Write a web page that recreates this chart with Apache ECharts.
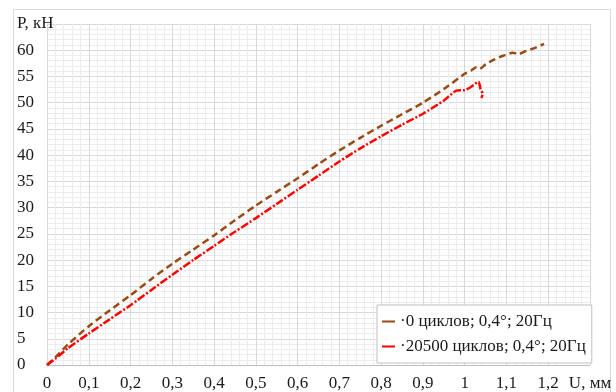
<!DOCTYPE html>
<html><head><meta charset="utf-8">
<script src="https://cdn.jsdelivr.net/npm/echarts@6/dist/echarts.min.js"></script>
<style>html,body{margin:0;padding:0;background:#fff}#c{width:616px;height:392px}</style>
</head><body><div id="c"></div>
<script>
const seriesNames = ['0 циклов; 0,4°; 20Гц', '20500 циклов; 0,4°; 20Гц'];
const xAxisTitle = 'U, мм';
const yAxisTitle = 'P, кН';
const series0 = [[0,0],[0.02,1.5],[0.05,3.9],[0.1,7.4],[0.15,10.4],[0.2,13.3],[0.25,16.4],[0.3,19.3],[0.35,22.0],[0.4,24.7],[0.45,27.6],[0.5,30.4],[0.55,33.0],[0.6,35.6],[0.65,38.3],[0.7,40.9],[0.75,43.3],[0.8,45.6],[0.85,47.8],[0.9,50.0],[0.95,52.6],[1.0,55.5],[1.015,56.1],[1.027,56.7],[1.035,56.4],[1.05,57.3],[1.07,58.2],[1.09,58.9],[1.115,59.5],[1.13,59.3],[1.145,59.8],[1.17,60.5],[1.19,61.2]];
const series1 = [[0,0],[0.02,1.2],[0.05,3.2],[0.1,6.0],[0.15,8.7],[0.2,11.4],[0.25,14.3],[0.3,17.2],[0.35,20.0],[0.4,22.7],[0.45,25.4],[0.5,28.0],[0.55,30.7],[0.6,33.4],[0.65,36.1],[0.7,38.8],[0.75,41.3],[0.8,43.6],[0.85,45.8],[0.9,47.9],[0.95,50.4],[0.98,52.3],[1.0,52.4],[1.015,53.0],[1.033,54.0],[1.038,52.6],[1.043,51.7],[1.040,50.9]];
const xMax = 1.3, xStep = 0.1, yMax = 65, yStep = 5;

const font = '"Liberation Serif", "DejaVu Serif", serif';
const chart = echarts.init(document.getElementById('c'), null, {renderer:'canvas'});
chart.setOption({
  backgroundColor:'#fff',
  animation:false,
  graphic:[{type:'rect', shape:{x:13.5,y:9.5,width:597,height:400}, style:{fill:'none',stroke:'#d9d9d9',lineWidth:1}, z:-1}],
  grid:{left:47, right:26, top:24, bottom:27},
  xAxis:{type:'value', min:0, max:xMax, interval:xStep,
    axisLine:{show:true, lineStyle:{color:'#bfbfbf'}}, axisTick:{show:false},
    splitLine:{show:true, lineStyle:{color:'#d9d9d9', width:1}},
    minorTick:{show:false, splitNumber:5}, minorSplitLine:{show:true, lineStyle:{color:'#ececec', width:1}},
    axisLabel:{margin:10, color:'#1a1a1a', fontFamily:font, fontSize:17,
      formatter:v=>{const r=Math.round(v*10)/10; if(Math.abs(r-xMax)<1e-9) return xAxisTitle; return String(r).replace('.',',');}}
  },
  yAxis:{type:'value', min:0, max:yMax, interval:yStep,
    axisLine:{show:true, lineStyle:{color:'#d9d9d9'}}, axisTick:{show:false},
    splitLine:{show:true, lineStyle:{color:'#d9d9d9', width:1}},
    minorTick:{show:false, splitNumber:5}, minorSplitLine:{show:true, lineStyle:{color:'#ececec', width:1}},
    axisLabel:{margin:30, align:'left', color:'#1a1a1a', fontFamily:font, fontSize:17,
      formatter:v=>{if(Math.abs(v-yMax)<1e-9) return yAxisTitle; return String(v);}}
  },
  legend:{orient:'vertical', left:377, top:305, padding:[8,6,8,5], itemGap:8,
    backgroundColor:'#fff', borderColor:'#bfbfbf', borderWidth:1,
    icon:'rect', itemWidth:13, itemHeight:2,
    textStyle:{fontFamily:font, fontSize:17, color:'#1a1a1a'},
    formatter:n=>'·'+n,
    data:seriesNames},
  series:[
    {name:seriesNames[0], type:'line', data:series0, showSymbol:false, symbol:'none', color:'#974B17', smooth:0.2,
      lineStyle:{width:2.5, color:'#974B17', type:[7,4]}},
    {name:seriesNames[1], type:'line', data:series1, showSymbol:false, symbol:'none', color:'#ff0000', smooth:0.2,
      lineStyle:{width:2.5, color:'#ff0000', type:[8,2,2,2]}}
  ]
});
</script></body></html>
